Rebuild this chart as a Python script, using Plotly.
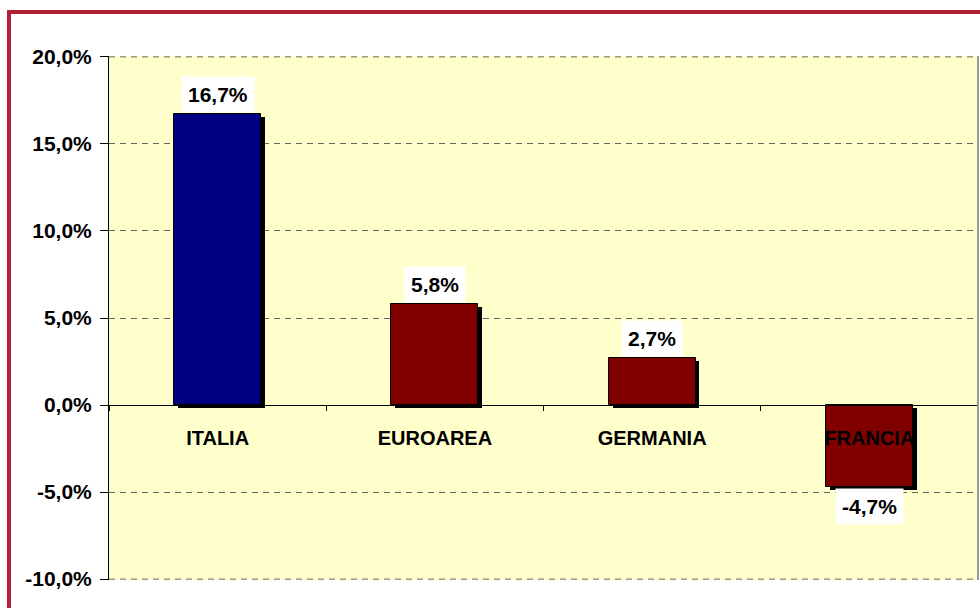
import plotly.graph_objects as go

# ---- data ----
categories = ["ITALIA", "EUROAREA", "GERMANIA", "FRANCIA"]
values = [16.7, 5.8, 2.7, -4.7]
bar_colors = ["#000080", "#800000", "#800000", "#800000"]
y_ticks = [-10, -5, 0, 5, 10, 15, 20]

# ---- style ----
FONT = "Liberation Sans, Arial, sans-serif"
BAR_W = 0.4
SHADOW_DX = 0.018   # category units
SHADOW_DY = 0.17    # percentage points
Y_MIN, Y_MAX = -10.05, 20.05
GRID = dict(color="#666666", width=1, dash="6px,5px")

def fmt(v):
    return f"{v:.1f}".replace(".", ",") + "%"

fig = go.Figure()

# shadow
fig.add_trace(go.Bar(
    x=categories,
    y=values,
    base=[-SHADOW_DY] * len(values),
    width=BAR_W,
    offset=-BAR_W / 2 + SHADOW_DX,
    marker=dict(color="black", line=dict(width=0)),
    hoverinfo="skip",
    showlegend=False,
))
# bars
fig.add_trace(go.Bar(
    x=categories,
    y=values,
    width=BAR_W,
    offset=-BAR_W / 2,
    marker=dict(color=bar_colors, line=dict(color="black", width=1)),
    hoverinfo="skip",
    showlegend=False,
))

# value labels
for c, v in zip(categories, values):
    fig.add_annotation(
        x=c, y=v, xref="x", yref="y",
        text=f"<b>{fmt(v)}</b>",
        showarrow=False,
        yanchor="bottom" if v >= 0 else "top",
        yshift=1 if v >= 0 else -1,
        bgcolor="white",
        borderpad=6,
        font=dict(family=FONT, size=21, color="black"),
    )

zero_pos = (0 - Y_MIN) / (Y_MAX - Y_MIN)

shapes = [
    # right border of plot area
    dict(type="line", xref="paper", yref="paper", x0=1, x1=1, y0=0, y1=1,
         line=dict(color="#999999", width=2)),
    # outer chart border
    dict(type="rect", xref="paper", yref="paper",
         x0=(9 - 109) / 869, x1=(995 - 109) / 869,
         y0=(580 - 625) / 524, y1=(580 - 12) / 524,
         line=dict(color="#B22234", width=4), fillcolor="rgba(0,0,0,0)",
         layer="above"),
]
# gridlines at the plot edges (top and bottom ticks)
for t in (min(y_ticks), max(y_ticks)):
    shapes.append(dict(type="line", xref="paper", yref="y", x0=0, x1=1, y0=t, y1=t,
                       line=GRID, layer="below"))

fig.update_layout(
    width=980, height=608,
    paper_bgcolor="white",
    plot_bgcolor="#FFFFCC",
    margin=dict(l=109, r=2, t=56, b=28),
    barmode="overlay",
    bargap=0,
    showlegend=False,
    xaxis=dict(
        type="category",
        anchor="free",
        position=zero_pos,
        showline=True, linecolor="black", linewidth=1,
        ticks="outside", ticklen=5, tickcolor="black", tickwidth=1,
        tickson="boundaries",
        showgrid=False,
        tickfont=dict(family=FONT, size=20, color="black", weight="bold"),
        ticklabelstandoff=15,
    ),
    yaxis=dict(
        range=[Y_MIN, Y_MAX],
        tickmode="array",
        tickvals=y_ticks,
        ticktext=[fmt(v) for v in y_ticks],
        showline=True, linecolor="black", linewidth=1,
        ticks="outside", ticklen=8, tickcolor="black",
        showgrid=True, gridcolor=GRID["color"], gridwidth=1, griddash=GRID["dash"],
        zeroline=False,
        tickfont=dict(family=FONT, size=21, color="black", weight="bold"),
        ticklabelstandoff=4,
    ),
    shapes=shapes,
)

fig.write_html(
    "out.html",
    config={"displayModeBar": False},
    post_script="document.body.style.margin='0';document.body.style.overflow='hidden';",
)
